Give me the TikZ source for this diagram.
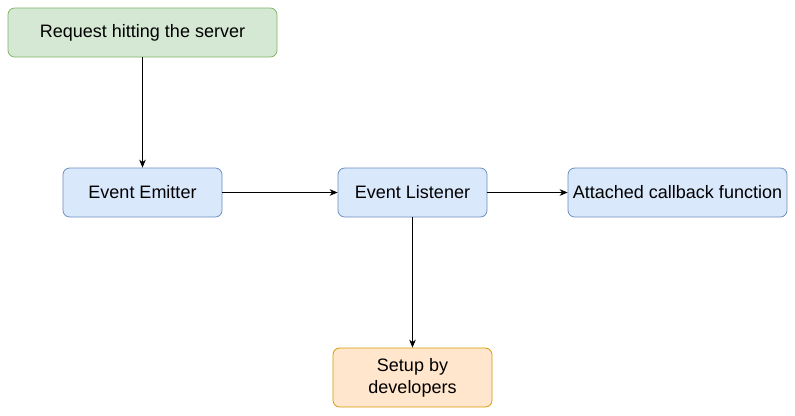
\documentclass[tikz,border=0pt]{standalone}
\usepackage{fontspec}
\setmainfont{Liberation Sans}
\usetikzlibrary{arrows.meta}

\begin{document}
\begin{tikzpicture}[x=0.75pt, y=-0.75pt, font=\fontsize{13.5pt}{16.5pt}\selectfont,
    box/.style={rectangle, draw, rounded corners=5pt, line width=0.6pt, align=center, minimum height=36.75pt, inner sep=2pt},
    arr/.style={-{Stealth[length=6pt, width=5pt]}, line width=0.6pt}]

    \useasboundingbox (0,0) rectangle (795,415);

    \definecolor{greenfill}{HTML}{D5E8D4}
    \definecolor{greenline}{HTML}{82B366}
    \definecolor{orangefill}{HTML}{FFE6CC}
    \definecolor{orangeline}{HTML}{D79B00}
    \definecolor{bluefill}{HTML}{DAE8FC}
    \definecolor{blueline}{HTML}{6C8EBF}

    \node[box, draw=greenline, fill=greenfill, minimum width=201.75pt] (request) at (142.5,32.5) {Request hitting the server};

    \foreach \pos/\name/\boxw/\txt in {{(142.5,192.5)/emitter/119.25pt/Event Emitter}, {(412.5,192.5)/listener/111.75pt/Event Listener}, {(677.5,192.5)/callback/164.25pt/Attached callback function}}
        \node[box, draw=blueline, fill=bluefill, minimum width=\boxw] (\name) at \pos {\txt};

    \node[box, draw=orangeline, fill=orangefill, minimum width=119.25pt, minimum height=44.25pt] (setup) at (412.5,377.5) {Setup by\\developers};

    \draw[arr] (request) -- (emitter);
    \draw[arr] (emitter) -- (listener);
    \draw[arr] (listener) -- (callback);
    \draw[arr] (listener) -- (setup);
\end{tikzpicture}
\end{document}
